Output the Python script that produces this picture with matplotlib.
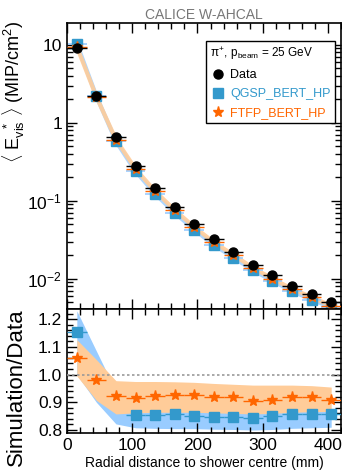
import numpy as np
import matplotlib
matplotlib.use('Agg')
import matplotlib.pyplot as plt
from matplotlib.ticker import MultipleLocator, FixedLocator, FixedFormatter, LogLocator, NullFormatter
from matplotlib.lines import Line2D

plt.rcParams['font.family'] = ['Liberation Sans', 'DejaVu Sans']
plt.rcParams['mathtext.fontset'] = 'custom'
plt.rcParams['mathtext.rm'] = 'Liberation Sans'
plt.rcParams['mathtext.it'] = 'Liberation Sans'

# radial bins (mm)
radius = [15, 45, 75, 105, 135, 165, 195, 225, 255, 285, 315, 345, 375, 405]
half_width = 15

# mean visible energy density (MIP/cm^2)
data = [9.0, 2.2, 0.66, 0.28, 0.144, 0.082, 0.050, 0.032, 0.022, 0.0152, 0.011, 0.0080, 0.0063, 0.0050]
qgsp = [10.4, 2.2, 0.58, 0.239, 0.123, 0.070, 0.0426, 0.0271, 0.0187, 0.0128, 0.0094, 0.0069, 0.0054, 0.0043]
ftfp = [9.5, 2.16, 0.61, 0.256, 0.133, 0.076, 0.046, 0.0294, 0.0202, 0.0138, 0.0100, 0.0074, 0.0058, 0.0045]

# simulation / data
qgsp_ratio = [1.155, np.nan, np.nan, 0.855, 0.855, 0.857, 0.852, 0.847, 0.848, 0.845, 0.850, 0.858, 0.858, 0.858]
ftfp_ratio = [1.06, 0.98, 0.922, 0.915, 0.922, 0.925, 0.925, 0.918, 0.918, 0.905, 0.910, 0.920, 0.920, 0.908]
qgsp_lo = [1.0, 0.90, 0.822, 0.808, 0.806, 0.805, 0.805, 0.803, 0.802, 0.800, 0.802, 0.806, 0.808, 0.810]
qgsp_hi = [1.23, 1.085, 0.94, 0.875, 0.875, 0.875, 0.872, 0.870, 0.870, 0.868, 0.870, 0.875, 0.876, 0.876]
ftfp_lo = [0.995, 0.907, 0.858, 0.862, 0.864, 0.864, 0.864, 0.862, 0.860, 0.858, 0.860, 0.864, 0.866, 0.867]
ftfp_hi = [1.126, 1.054, 0.978, 0.975, 0.975, 0.974, 0.972, 0.968, 0.965, 0.962, 0.962, 0.962, 0.960, 0.955]

c_blue = '#3399cc'
c_blue_l = '#99ccff'
c_orange = '#ff6600'
c_orange_l = '#ffcc99'

fig = plt.figure(figsize=(3.42, 4.73), dpi=100)
ax = fig.add_axes([0.196, 0.347, 0.801, 0.604])
axr = fig.add_axes([0.196, 0.085, 0.801, 0.262])

def style(a):
    a.tick_params(which='both', direction='in', top=True, right=True, width=1, colors='black')
    a.tick_params(which='major', length=7, labelsize=12.5)
    a.tick_params(which='minor', length=4)
    for s in a.spines.values():
        s.set_linewidth(1.2)

# top panel
ax.plot(radius, qgsp, color=c_blue_l, lw=3, alpha=0.8, zorder=1)
ax.plot(radius, ftfp, color=c_orange_l, lw=3, alpha=0.9, zorder=1)
ax.errorbar(radius, qgsp, xerr=half_width, fmt='s', ms=6.5, color=c_blue, ecolor=c_blue_l, elinewidth=1.2, zorder=2)
ax.errorbar(radius, ftfp, xerr=half_width, fmt='*', ms=8, color=c_orange, ecolor=c_orange, elinewidth=1.0, zorder=3)
ax.errorbar(radius, data, xerr=half_width, fmt='o', ms=6.5, color='black', ecolor='black', elinewidth=1.0, zorder=4)

ax.set_yscale('log')
ax.set_xlim(0, 420)
ax.set_ylim(0.0041, 19)
ax.yaxis.set_major_locator(FixedLocator([0.01, 0.1, 1, 10]))
ax.yaxis.set_major_formatter(FixedFormatter([r'$10^{-2}$', r'$10^{-1}$', '1', '10']))
ax.yaxis.set_minor_locator(LogLocator(base=10, subs=np.arange(2, 10)))
ax.yaxis.set_minor_formatter(NullFormatter())
ax.xaxis.set_major_locator(MultipleLocator(100))
ax.xaxis.set_minor_locator(MultipleLocator(20))
style(ax)
ax.tick_params(labelbottom=False)
ax.set_ylabel(r'$\langle\ \mathrm{E}_{\mathrm{vis}}^{\ \ *}\ \rangle$ (MIP/cm$^{2}$)', fontsize=13, loc='top')
ax.yaxis.set_label_coords(-0.145, 1.01)
ax.set_title('CALICE W-AHCAL', color='#777777', fontsize=10, pad=3)

handles = [
    Line2D([], [], marker='o', ls='none', color='black', ms=6.5),
    Line2D([], [], marker='s', ls='none', color=c_blue, ms=6.5),
    Line2D([], [], marker='*', ls='none', color=c_orange, ms=8),
]
leg = ax.legend(handles, ['Data', 'QGSP_BERT_HP', 'FTFP_BERT_HP'],
                loc='upper left', bbox_to_anchor=(0.583, 0.926), bbox_transform=fig.transFigure,
                title=r'$\pi^{+}$, p$_{\mathrm{beam}}$ = 25 GeV', title_fontsize=8.5, alignment='left',
                fontsize=9, frameon=True, fancybox=False, edgecolor='black', framealpha=1,
                handletextpad=0.4, handlelength=1.2, borderpad=0.35, labelspacing=0.55)
leg.get_frame().set_linewidth(1.0)
for t, c in zip(leg.get_texts(), ['black', c_blue, c_orange]):
    t.set_color(c)

# ratio panel
axr.fill_between(radius, qgsp_lo, qgsp_hi, color=c_blue_l, lw=0, zorder=1)
axr.fill_between(radius, ftfp_lo, ftfp_hi, color=c_orange_l, lw=0, zorder=2)
axr.axhline(1.0, color='#999999', ls=(0, (1.5, 1.5)), lw=1.2, zorder=3)
axr.errorbar(radius, qgsp_ratio, xerr=half_width, fmt='s', ms=6.5, color=c_blue, ecolor=c_blue, elinewidth=1.0, zorder=4)
axr.errorbar(radius, ftfp_ratio, xerr=half_width, fmt='*', ms=8, color=c_orange, ecolor=c_orange, elinewidth=1.0, zorder=5)
axr.set_xlim(0, 420)
axr.set_ylim(0.79, 1.237)
axr.xaxis.set_major_locator(MultipleLocator(100))
axr.xaxis.set_minor_locator(MultipleLocator(20))
axr.yaxis.set_major_locator(MultipleLocator(0.1))
axr.yaxis.set_minor_locator(MultipleLocator(0.02))
axr.yaxis.set_major_formatter(matplotlib.ticker.FormatStrFormatter('%.1f'))
style(axr)
axr.set_ylabel('Simulation/Data', fontsize=16, loc='top')
axr.yaxis.set_label_coords(-0.145, 1.0)
axr.set_xlabel('Radial distance to shower centre (mm)', fontsize=10)
axr.xaxis.set_label_coords(0.5, -0.19)

fig.savefig('out.png', dpi=100)
